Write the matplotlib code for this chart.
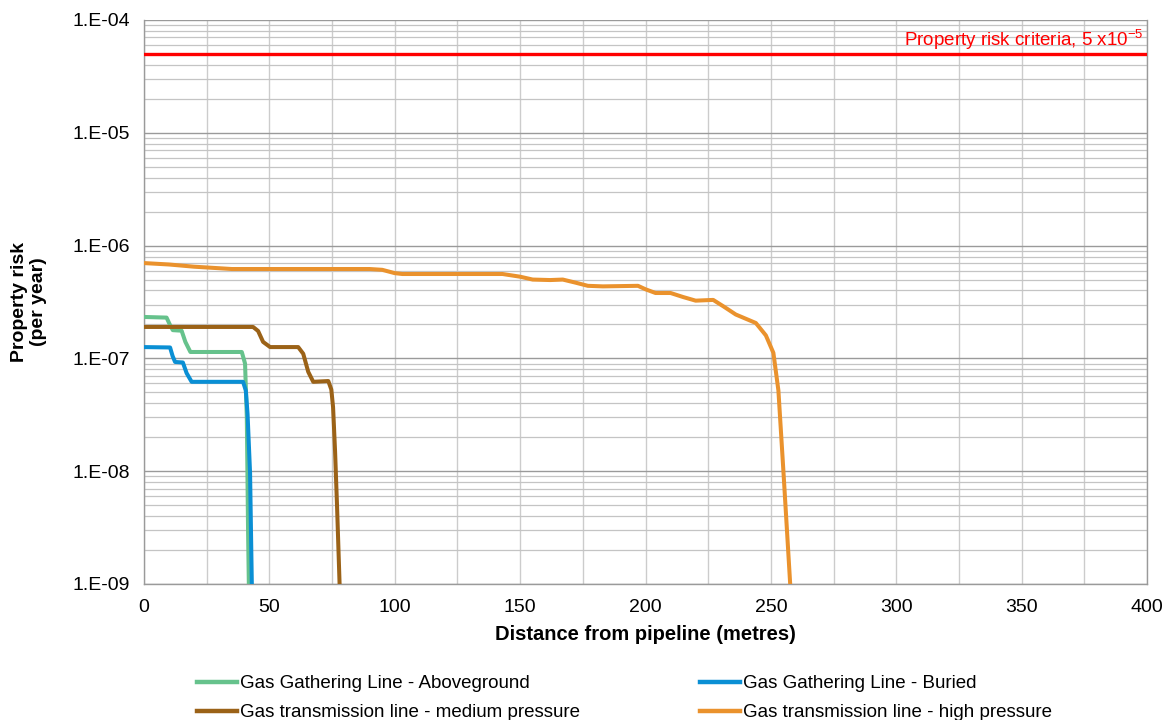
import numpy as np
import matplotlib
matplotlib.use("Agg")
import matplotlib.pyplot as plt
from matplotlib.ticker import MultipleLocator, LogLocator, FuncFormatter, NullFormatter
from matplotlib.lines import Line2D

plt.rcParams['font.family'] = ['Liberation Sans', 'DejaVu Sans']
plt.rcParams['mathtext.fontset'] = 'custom'
plt.rcParams['mathtext.rm'] = 'Liberation Sans'
plt.rcParams['mathtext.it'] = 'Liberation Sans'
plt.rcParams['mathtext.bf'] = 'Liberation Sans:bold'

# ---- data (distance in metres, risk per year) ----
above_x = [0, 9, 10.5, 11.5, 15, 16.5, 18.5, 39, 40.3, 41.0, 41.5, 42.0]
above_y = [2.33e-7, 2.3e-7, 1.95e-7, 1.78e-7, 1.76e-7, 1.4e-7, 1.14e-7, 1.14e-7, 9e-8, 3e-8, 3e-9, 5e-10]

buried_x = [0, 10.4, 11.4, 12.4, 15.5, 17, 19, 39.5, 40.6, 41.3, 42.3, 43.0, 43.4]
buried_y = [1.26e-7, 1.25e-7, 1.05e-7, 9.3e-8, 9.2e-8, 7.4e-8, 6.2e-8, 6.2e-8, 5.2e-8, 3.2e-8, 9.6e-9, 1e-9, 5e-10]

medium_x = [0, 43.5, 45.5, 47.5, 50.3, 61.5, 63.5, 65.5, 67.5, 73.5, 74.7, 75.4, 76.2, 77.0, 78.0, 78.4]
medium_y = [1.9e-7, 1.9e-7, 1.75e-7, 1.4e-7, 1.26e-7, 1.26e-7, 1.1e-7, 7.6e-8, 6.2e-8, 6.3e-8, 5.3e-8, 3.7e-8, 1.5e-8, 4.8e-9, 1e-9, 5e-10]

high_x = [0, 10, 20, 25, 35, 90, 95, 100, 103, 143, 150, 155, 162, 167, 172, 177, 183, 197,
          200, 204, 210, 215, 220, 227, 231, 236, 244, 248, 251, 253, 255, 257.7, 258.5]
high_y = [7.0e-7, 6.8e-7, 6.5e-7, 6.4e-7, 6.2e-7, 6.2e-7, 6.1e-7, 5.7e-7, 5.6e-7, 5.6e-7, 5.3e-7, 5.0e-7,
          4.95e-7, 5.0e-7, 4.7e-7, 4.4e-7, 4.35e-7, 4.4e-7, 4.1e-7, 3.8e-7, 3.8e-7, 3.5e-7, 3.25e-7,
          3.3e-7, 2.9e-7, 2.45e-7, 2.06e-7, 1.6e-7, 1.12e-7, 5.2e-8, 1.0e-8, 1e-9, 5e-10]

criteria = 5e-5
series_labels = ["Gas Gathering Line - Aboveground", "Gas Gathering Line - Buried",
                 "Gas transmission line - medium pressure", "Gas transmission line - high pressure"]
colors = ["#66c28c", "#0a8fd4", "#9b6217", "#ea922d"]

fig = plt.figure(figsize=(11.66, 7.2), dpi=100)
ax = fig.add_axes([144/1166, 1-584/720, (1147-144)/1166, (584-20)/720])

ax.set_yscale('log')
ax.set_xlim(0, 400)
ax.set_ylim(1e-9, 1e-4)

ax.xaxis.set_major_locator(MultipleLocator(50))
ax.xaxis.set_minor_locator(MultipleLocator(25))
ax.yaxis.set_major_locator(LogLocator(base=10, numticks=20))
ax.yaxis.set_minor_locator(LogLocator(base=10, subs=np.arange(2, 10), numticks=20))
ax.yaxis.set_major_formatter(FuncFormatter(lambda v, p: "1.E%03d" % int(round(np.log10(v)))))
ax.yaxis.set_minor_formatter(NullFormatter())

ax.grid(True, which='major', axis='y', color='#9a9a9a', lw=1.0)
ax.grid(True, which='minor', axis='y', color='#c4c4c4', lw=0.9)
ax.grid(True, which='both', axis='x', color='#cccccc', lw=1.0)
ax.set_axisbelow(True)
for s in ax.spines.values():
    s.set_color('#9a9a9a')
    s.set_linewidth(1.0)
ax.spines['top'].set_visible(False)
ax.tick_params(which='both', length=0, labelsize=14, colors='black')
ax.tick_params(axis='x', pad=11)
ax.tick_params(axis='y', pad=10)

lw = 2.9
ax.plot(above_x, above_y, color=colors[0], lw=lw, solid_joinstyle='round', solid_capstyle='butt', zorder=3)
ax.plot(buried_x, buried_y, color=colors[1], lw=lw, solid_joinstyle='round', solid_capstyle='butt', zorder=4)
ax.plot(medium_x, medium_y, color=colors[2], lw=lw, solid_joinstyle='round', solid_capstyle='butt', zorder=3)
ax.plot(high_x, high_y, color=colors[3], lw=lw, solid_joinstyle='round', solid_capstyle='butt', zorder=3)

ax.axhline(criteria, color='#ff0000', lw=2.4, zorder=5)
ax.text(398.5, criteria * 1.04, "Property risk criteria, 5 x10$^{-5}$", color='#ff0000',
        fontsize=13.5, ha='right', va='bottom')

ax.set_xlabel("Distance from pipeline (metres)", fontsize=14.5, fontweight='bold', labelpad=6)
fig.text(29/1166, 1-302/720, "Property risk\n(per year)", rotation=90, fontsize=14,
         fontweight='bold', ha='center', va='center', linespacing=1.1)

h = [Line2D([], [], color=c, lw=3.2) for c in colors]
kw = dict(loc='upper left', frameon=False, fontsize=13.5, handlelength=2.15, handletextpad=0.15,
          labelspacing=0.64, borderpad=0, borderaxespad=0)
fig.legend([h[0], h[2]], [series_labels[0], series_labels[2]], bbox_to_anchor=(197/1166, 1-675/720), **kw)
fig.legend([h[1], h[3]], [series_labels[1], series_labels[3]], bbox_to_anchor=(700/1166, 1-675/720), **kw)

fig.savefig("out.png", dpi=100)
